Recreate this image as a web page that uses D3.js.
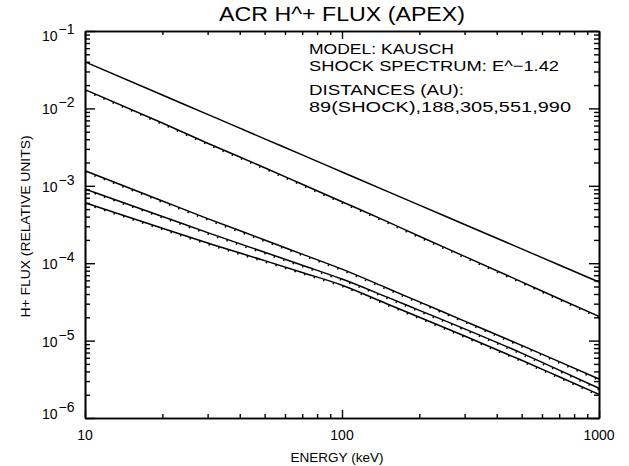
<!DOCTYPE html>
<html>
<head>
<meta charset="utf-8">
<script src="https://cdn.jsdelivr.net/npm/d3@7"></script>
<style>
  html, body { margin: 0; padding: 0; background: #fff; }
  svg text { font-family: "Liberation Sans", Arial, sans-serif; fill: #000; }
</style>
</head>
<body>
<svg id="chart" width="629" height="466"></svg>
<script>
// Energies (keV) at which each spectrum is tabulated
const energies = [10, 20, 30, 50, 70, 100, 150, 200, 300, 500, 700, 1000];

// log10 of H+ flux (relative units) for each distance
const fluxShock = [-1.399, -1.827, -2.077, -2.393, -2.600, -2.821, -3.072, -3.249, -3.500, -3.815, -4.023, -4.243];
const flux188   = [-1.757, -2.189, -2.450, -2.766, -2.980, -3.206, -3.463, -3.652, -3.912, -4.241, -4.459, -4.688];
const flux305   = [-2.805, -3.196, -3.424, -3.700, -3.883, -4.077, -4.323, -4.500, -4.748, -5.062, -5.272, -5.496];
const flux551   = [-3.041, -3.396, -3.605, -3.859, -4.026, -4.205, -4.439, -4.609, -4.848, -5.162, -5.382, -5.616];
const flux990   = [-3.218, -3.549, -3.740, -3.967, -4.120, -4.284, -4.527, -4.699, -4.941, -5.254, -5.467, -5.694];

// curves that carry a dotted model overlay
const solidSeries = [fluxShock, flux188, flux305, flux551, flux990];
const dottedSeries = [flux188, flux305, flux551, flux990];

const xTickValues = [10, 100, 1000];
const xTickLabels = ["10", "100", "1000"];
const yExponents = [-1, -2, -3, -4, -5, -6];

const titleText = "ACR H^+ FLUX (APEX)";
const xTitle = "ENERGY (keV)";
const yTitle = "H+ FLUX (RELATIVE UNITS)";
const noteLines = ["MODEL: KAUSCH", "SHOCK SPECTRUM: E^\u22121.42", "DISTANCES (AU):", "89(SHOCK),188,305,551,990"];

const svg = d3.select("#chart");
const L = 85, R = 599, T = 31, B = 418;

const x = d3.scaleLog().domain([10, 1000]).range([L, R]);
const y = d3.scaleLog().domain([1e-6, 1e-1]).range([B, T]);

// minor tick values
const xMinor = [];
for (let d = 10; d < 1000; d *= 10) for (let k = 2; k <= 9; k++) xMinor.push(d * k);
const yMinor = [];
for (let e = -6; e < -1; e++) for (let k = 2; k <= 9; k++) yMinor.push(k * Math.pow(10, e));

function styleAxis(g) {
  g.select(".domain").attr("stroke", "#000").attr("stroke-width", 1.6);
  g.selectAll(".tick line").attr("stroke", "#000").attr("stroke-width", 1.4);
  g.selectAll(".tick text").remove();
}

// bottom & top axes
svg.append("g").attr("transform", `translate(0,${B})`)
  .call(d3.axisBottom(x).tickValues(xTickValues).tickSize(-8).tickSizeOuter(0).tickFormat("")).call(styleAxis);
svg.append("g").attr("transform", `translate(0,${B})`)
  .call(d3.axisBottom(x).tickValues(xMinor).tickSize(-4).tickSizeOuter(0).tickFormat("")).call(styleAxis);
svg.append("g").attr("transform", `translate(0,${T})`)
  .call(d3.axisTop(x).tickValues(xTickValues).tickSize(-8).tickSizeOuter(0).tickFormat("")).call(styleAxis);
svg.append("g").attr("transform", `translate(0,${T})`)
  .call(d3.axisTop(x).tickValues(xMinor).tickSize(-4).tickSizeOuter(0).tickFormat("")).call(styleAxis);

// left & right axes
const yMajor = yExponents.map(e => Math.pow(10, e));
svg.append("g").attr("transform", `translate(${L},0)`)
  .call(d3.axisLeft(y).tickValues(yMajor).tickSize(-10).tickSizeOuter(0).tickFormat("")).call(styleAxis);
svg.append("g").attr("transform", `translate(${L},0)`)
  .call(d3.axisLeft(y).tickValues(yMinor).tickSize(-5).tickSizeOuter(0).tickFormat("")).call(styleAxis);
svg.append("g").attr("transform", `translate(${R},0)`)
  .call(d3.axisRight(y).tickValues(yMajor).tickSize(-10).tickSizeOuter(0).tickFormat("")).call(styleAxis);
svg.append("g").attr("transform", `translate(${R},0)`)
  .call(d3.axisRight(y).tickValues(yMinor).tickSize(-5).tickSizeOuter(0).tickFormat("")).call(styleAxis);

// x tick labels
svg.append("g").selectAll("text").data(xTickValues).join("text")
  .attr("x", d => x(d)).attr("y", B + 22)
  .attr("text-anchor", "middle").attr("font-size", 14)
  .text((d, i) => xTickLabels[i]);

// y tick labels as powers of ten, kept inside the frame height
const yl = svg.append("g").selectAll("text").data(yExponents).join("text")
  .attr("x", 42)
  .attr("y", e => Math.min(Math.max(y(Math.pow(10, e)) + 6, T + 10), B + 1))
  .attr("text-anchor", "start").attr("font-size", 14);
yl.append("tspan").text("10");
yl.append("tspan").attr("dy", -7).attr("dx", 1).text(e => "\u2212" + Math.abs(e));

// curves
const line = d3.line().x((d, i) => x(energies[i])).y(d => y(Math.pow(10, d))).curve(d3.curveMonotoneX);
svg.append("g").selectAll("path").data(solidSeries).join("path")
  .attr("d", line).attr("fill", "none").attr("stroke", "#000").attr("stroke-width", 1.5);
svg.append("g").attr("transform", "translate(0,1.3)").selectAll("path").data(dottedSeries).join("path")
  .attr("d", line).attr("fill", "none").attr("stroke", "#000").attr("stroke-width", 1.6)
  .attr("stroke-dasharray", "1.5 8.5");

// title and axis titles
svg.append("text").attr("x", 342).attr("y", 21).attr("text-anchor", "middle")
  .attr("font-size", 21).attr("textLength", 246).attr("lengthAdjust", "spacingAndGlyphs")
  .text(titleText);
svg.append("text").attr("x", 337).attr("y", 462).attr("text-anchor", "middle")
  .attr("font-size", 13).attr("textLength", 93).attr("lengthAdjust", "spacingAndGlyphs")
  .text(xTitle);
svg.append("text").attr("transform", `translate(30,${(T + B) / 2 + 2}) rotate(-90)`)
  .attr("text-anchor", "middle").attr("font-size", 13.5)
  .attr("textLength", 182).attr("lengthAdjust", "spacingAndGlyphs").text(yTitle);

// model note
const noteY = [54, 71.3, 94.5, 111.8];
const noteW = [145, 250, 155, 262];
svg.append("g").selectAll("text").data(noteLines).join("text")
  .attr("x", 309).attr("y", (d, i) => noteY[i]).attr("font-size", 15)
  .attr("textLength", (d, i) => noteW[i]).attr("lengthAdjust", "spacingAndGlyphs")
  .text(d => d);
</script>
</body>
</html>
